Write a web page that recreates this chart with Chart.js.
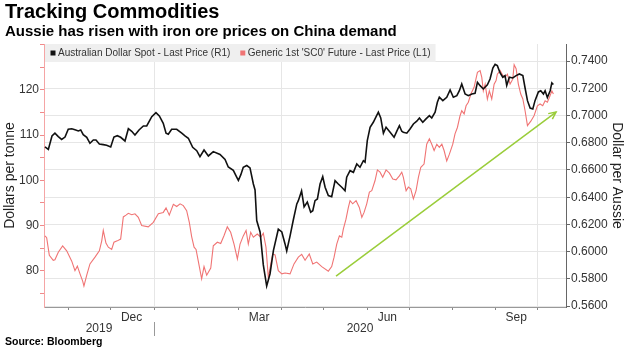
<!DOCTYPE html>
<html>
<head>
<meta charset="utf-8">
<script src="https://cdn.jsdelivr.net/npm/chart.js@4.4.1/dist/chart.umd.min.js"></script>
<style>
  html, body { margin: 0; padding: 0; background: #ffffff; }
  #wrap { width: 633px; height: 350px; }
</style>
</head>
<body>
<div id="wrap"><canvas id="c" width="633" height="350"></canvas></div>
<script>
// ---- data (x = days since 2019-10-01) ----
const audDays = [
  14.2,16.6,19.2,21.3,23.7,26.1,28.5,30.8,33.3,35.6,
  38.0,39.7,41.5,44.0,46.3,48.7,50.6,53.0,55.8,58.2,
  61.1,63.4,65.8,68.2,71.3,73.7,76.1,78.4,81.3,84.4,
  86.8,90.4,93.4,95.8,98.6,100.6,102.2,104.6,108.2,111.8,
  114.1,116.5,119.6,122.5,124.8,127.7,130.8,134.3,139.1,142.7,
  145.0,148.6,151.0,152.2,153.9,155.7,158.2,160.5,162.9,164.1,
  165.3,167.7,170.0,172.4,174.8,177.2,180.7,183.2,185.5,186.7,
  189.1,191.4,193.9,195.0,197.3,199.1,201.4,203.8,205.3,206.9,
  208.6,210.5,212.4,214.1,216.4,218.8,221.2,223.5,226.0,228.3,
  229.5,231.9,234.3,236.7,239.0,241.4,242.6,244.2,246.2,248.5,
  250.5,252.1,253.8,255.7,257.6,260.5,263.3,265.2,267.1,268.8,
  269.9,272.4,274.7,277.1,279.5,281.4,283.8,286.1,288.5,290.2,
  292.6,294.2,295.6,298.1,300.9,303.3,305.6,308.1,309.9,311.6,
  314.0,316.3,318.8,321.1,322.8,324.7,327.0,329.9,331.8,333.8,
  335.4,337.0,339.0,340.9,342.5,343.7,345.6,348.0,350.4,352.7,
  355.2,356.8,358.5,360.4,362.3,363.9,366.3,368.0,369.9,371.1,
  372.7,374.7,375.9,377.0
];
const audSpot = [
  0.6769,0.6751,0.6850,0.6870,0.6845,0.6824,0.6842,0.6899,0.6903,0.6896,
  0.6887,0.6894,0.6859,0.6840,0.6796,0.6820,0.6820,0.6791,0.6786,0.6782,
  0.6769,0.6842,0.6852,0.6840,0.6813,0.6903,0.6884,0.6857,0.6894,0.6923,
  0.6923,0.6991,0.7021,0.6997,0.6943,0.6870,0.6862,0.6899,0.6899,0.6870,
  0.6850,0.6833,0.6767,0.6742,0.6698,0.6747,0.6703,0.6735,0.6714,0.6677,
  0.6622,0.6597,0.6547,0.6523,0.6564,0.6620,0.6633,0.6615,0.6497,0.6453,
  0.6229,0.6145,0.5903,0.5748,0.5837,0.6008,0.6165,0.6145,0.6057,0.6005,
  0.6116,0.6233,0.6351,0.6375,0.6446,0.6329,0.6365,0.6290,0.6301,0.6375,
  0.6387,0.6497,0.6551,0.6473,0.6412,0.6404,0.6522,0.6497,0.6473,0.6448,
  0.6547,0.6595,0.6583,0.6644,0.6620,0.6668,0.6657,0.6815,0.6914,0.6950,
  0.6991,0.7024,0.6982,0.6870,0.6914,0.6877,0.6840,0.6884,0.6925,0.6884,
  0.6877,0.6870,0.6901,0.6938,0.6958,0.6982,0.6950,0.6975,0.6999,0.6982,
  0.7024,0.7097,0.7134,0.7109,0.7134,0.7188,0.7134,0.7146,0.7182,0.7232,
  0.7158,0.7146,0.7158,0.7163,0.7244,0.7219,0.7195,0.7226,0.7268,0.7349,
  0.7376,0.7366,0.7312,0.7281,0.7293,0.7221,0.7281,0.7276,0.7293,0.7305,
  0.7293,0.7202,0.7109,0.7055,0.7048,0.7109,0.7173,0.7182,0.7158,0.7182,
  0.7132,0.7182,0.7239,0.7228
];
const ironDays = [
  14.2,15.4,17.3,20.1,21.3,23.7,26.8,29.7,33.3,35.6,
  37.3,39.2,41.1,42.0,44.0,46.3,49.9,53.0,54.7,55.8,
  57.7,59.4,61.8,63.4,65.8,68.2,70.1,72.0,73.7,76.1,
  78.4,80.8,83.2,87.9,91.5,95.1,98.6,100.6,102.9,105.8,
  108.2,110.6,112.9,115.3,117.2,118.9,120.6,122.0,123.6,126.0,
  127.7,129.6,132.5,134.3,137.2,139.6,142.0,144.3,146.7,149.1,
  151.5,153.4,155.7,157.7,159.3,161.0,162.9,165.7,168.2,170.0,
  171.9,173.6,175.3,176.7,178.4,180.7,183.2,185.5,189.1,191.9,
  195.0,197.4,199.8,202.8,205.3,208.1,211.7,216.4,218.8,220.5,
  222.4,224.3,226.0,227.1,229.0,230.7,231.9,233.8,236.2,238.5,
  240.3,241.9,243.8,245.7,247.4,249.7,251.4,253.3,255.2,257.6,
  260.0,262.4,264.7,267.1,268.8,269.9,271.9,273.5,275.2,277.1,
  279.0,280.7,282.4,284.7,286.6,288.5,290.2,291.9,293.8,295.6,
  297.4,299.0,300.9,302.8,305.2,306.8,308.5,310.4,311.6,313.3,
  314.7,316.3,318.1,320.4,322.8,324.7,325.9,327.0,328.3,329.9,
  331.3,333.0,334.7,336.1,337.0,339.0,340.9,342.5,344.2,346.1,
  348.0,349.0,350.4,352.0,353.7,355.2,356.8,358.5,360.9,363.2,
  365.6,367.5,369.4,371.1,372.7,374.2,375.9,377.0
];
const ironOre = [
  87.7,87.3,83.4,82.3,82.4,84.1,85.5,84.4,82.1,80.0,
  81.0,79.3,77.7,76.6,79.0,81.5,83.0,84.4,86.6,88.9,
  86.1,85.2,84.7,86.3,86.6,87.0,91.9,92.3,92.7,92.4,
  92.6,91.8,90.0,89.7,90.7,92.6,92.9,93.9,92.3,94.7,
  94.2,94.8,94.4,93.3,90.7,87.5,85.2,84.7,82.1,78.2,
  80.9,79.0,80.6,85.5,86.3,86.0,87.8,89.7,88.5,85.9,
  82.6,85.9,87.7,88.9,85.9,88.5,87.4,88.1,87.4,88.3,
  85.2,78.4,81.4,83.7,83.5,80.0,79.3,79.5,79.3,81.5,
  83.0,83.6,82.3,83.7,81.5,81.9,80.9,79.9,80.9,83.0,
  85.9,87.7,87.4,89.2,91.4,94.0,95.5,94.8,95.5,94.0,
  91.8,92.9,94.8,97.4,97.7,99.9,102.3,101.8,100.7,102.3,
  101.6,100.3,100.1,101.0,101.8,100.7,97.7,98.5,98.1,95.9,
  97.7,100.7,102.9,103.6,108.0,109.2,108.0,106.6,108.0,107.3,
  108.0,106.6,104.3,105.8,108.0,110.3,111.7,114.3,115.4,114.7,
  116.5,117.3,119.1,120.6,123.9,124.3,122.8,119.8,121.3,118.0,
  119.8,118.0,121.3,122.1,123.5,124.3,123.2,122.8,123.5,121.3,
  122.4,125.6,124.7,121.3,119.1,118.0,115.4,112.1,113.1,114.3,
  116.5,116.9,116.5,117.6,117.3,118.4,119.8,119.1
];
// trend arrow annotation (days, left-axis level)
const arrowDays = [221.9, 378.9];
const arrowLevels = [78.8, 115.1];

const seriesNames = ["Australian Dollar Spot - Last Price (R1)", "Generic 1st 'SC0' Future - Last Price (L1)"];
const monthStartDates = ["2019-11-01","2019-12-01","2020-01-01","2020-02-01","2020-03-01","2020-04-01","2020-05-01","2020-06-01","2020-07-01","2020-08-01","2020-09-01","2020-10-01"];
const quarterStartDates = ["2020-01-01","2020-04-01","2020-07-01","2020-10-01"];
const monthLabels = ["Dec","Mar","Jun","Sep"];
const monthLabelDates = ["2019-12-16","2020-03-16","2020-06-15T12","2020-09-15T12"];
const yearLabels = ["2019","2020"];
const yearBreakDate = "2020-01-01";
const leftTicks = [75,80,85,90,95,100,105,110,115,120,125,130];
const leftLabels = [80,90,100,110,120];
const rightTicks = [0.56,0.58,0.60,0.62,0.64,0.66,0.68,0.70,0.72,0.74];
const xRange = [13.5, 386];
const leftRange = [71.96, 130.18];
const rightRange = [0.5594, 0.7525];

// ---- helpers ----
const base = Date.UTC(2019, 9, 1);
function dayOf(s) {
  const [d, h] = s.split("T");
  const [y, m, dd] = d.split("-").map(Number);
  return (Date.UTC(y, m - 1, dd) - base) / 864e5 + (h ? Number(h) / 24 : 0);
}
const monthStarts = monthStartDates.map(dayOf);
const quarterSet = new Set(quarterStartDates.map(dayOf));
const monthSet = new Set(monthStarts);
const labelPos = monthLabelDates.map(dayOf);
const labelMap = {};
labelPos.forEach((d, i) => { labelMap[String(d)] = monthLabels[i]; });
const xTicks = monthStarts.concat(labelPos).sort((a, b) => a - b);

const FONT = '"Liberation Sans", Arial, Helvetica, sans-serif';
Chart.defaults.font.family = FONT;
Chart.defaults.color = '#333';

const overlay = {
  id: 'overlay',
  afterDraw(chart) {
    const {ctx, chartArea: a, scales: {x}} = chart;
    ctx.save();
    // legend band
    ctx.font = '10px ' + FONT;
    const ds = chart.data.datasets;
    const sq = 5;
    let cx = a.left + 6.5;
    const parts = [];
    for (let i = 0; i < 2; i++) {
      const w = ctx.measureText(ds[i].label).width;
      parts.push({sx: cx, tx: cx + sq + 2.5, w, color: ds[i].legendColor});
      cx = cx + sq + 2.5 + w + 10;
    }
    const endX = parts[1].tx + parts[1].w + 5;
    ctx.fillStyle = '#efefef';
    ctx.fillRect(a.left + 1, a.top, endX - a.left - 1, 18);
    const my = a.top + 9.5;
    parts.forEach((p, i) => {
      ctx.fillStyle = p.color;
      ctx.fillRect(p.sx, my - 3, sq, sq);
      ctx.fillStyle = '#333';
      ctx.textBaseline = 'middle';
      ctx.textAlign = 'left';
      ctx.fillText(ds[i].label, p.tx, my);
    });
    // year labels
    const jan = x.getPixelForValue(dayOf(yearBreakDate));
    ctx.font = '12px ' + FONT;
    ctx.fillStyle = '#333';
    ctx.textAlign = 'center';
    ctx.fillText(yearLabels[0], (a.left + jan) / 2, 329);
    ctx.fillText(yearLabels[1], (jan + a.right) / 2, 329);
    ctx.strokeStyle = '#999';
    ctx.lineWidth = 1;
    ctx.beginPath();
    ctx.moveTo(Math.round(jan) + 0.5, 322);
    ctx.lineTo(Math.round(jan) + 0.5, 336);
    ctx.stroke();
    // source
    ctx.font = 'bold 10.5px ' + FONT;
    ctx.fillStyle = '#000';
    ctx.textAlign = 'left';
    ctx.fillText('Source: Bloomberg', 5, 342);
    // arrowhead
    const meta = chart.getDatasetMeta(2);
    const p0 = meta.data[0], p1 = meta.data[meta.data.length - 1];
    const ang = Math.atan2(p1.y - p0.y, p1.x - p0.x);
    ctx.strokeStyle = ds[2].borderColor;
    ctx.lineWidth = 1.5;
    ctx.beginPath();
    ctx.moveTo(p1.x - 8 * Math.cos(ang - 0.45), p1.y - 8 * Math.sin(ang - 0.45));
    ctx.lineTo(p1.x, p1.y);
    ctx.lineTo(p1.x - 8 * Math.cos(ang + 0.45), p1.y - 8 * Math.sin(ang + 0.45));
    ctx.stroke();
    ctx.restore();
  }
};

new Chart(document.getElementById('c'), {
  type: 'line',
  data: {
    datasets: [
      {
        label: seriesNames[0],
        data: audDays.map((d, i) => ({x: d, y: audSpot[i]})),
        yAxisID: 'yR',
        borderColor: '#111111',
        legendColor: '#111111',
        borderWidth: 1.6,
        pointRadius: 0,
        tension: 0,
        order: 1
      },
      {
        label: seriesNames[1],
        data: ironDays.map((d, i) => ({x: d, y: ironOre[i]})),
        yAxisID: 'yL',
        borderColor: '#f07474',
        legendColor: '#f07474',
        borderWidth: 1.1,
        pointRadius: 0,
        tension: 0,
        order: 2
      },
      {
        label: 'trend',
        data: arrowDays.map((d, i) => ({x: d, y: arrowLevels[i]})),
        yAxisID: 'yL',
        borderColor: '#9acd3a',
        borderWidth: 1.5,
        pointRadius: 0,
        order: 3
      }
    ]
  },
  options: {
    responsive: false,
    animation: false,
    events: [],
    layout: { padding: { left: 5, right: 0, top: 0, bottom: 0 } },
    plugins: {
      legend: { display: false },
      tooltip: { enabled: false },
      title: {
        display: true, text: 'Tracking Commodities', align: 'start', color: '#000',
        font: { size: 20, weight: 'bold', lineHeight: 1.2 }, padding: { top: 0, bottom: 0 }
      },
      subtitle: {
        display: true, text: 'Aussie has risen with iron ore prices on China demand', align: 'start', color: '#000',
        font: { size: 15, weight: 'bold', lineHeight: 1 }, padding: { top: 0, bottom: 5 }
      }
    },
    scales: {
      x: {
        type: 'linear',
        min: xRange[0], max: xRange[1],
        afterBuildTicks: s => { s.ticks = xTicks.map(v => ({value: v})); },
        afterFit: s => { s.height = 43; },
        ticks: {
          autoSkip: false, maxRotation: 0, padding: 0, color: '#333', font: { size: 12 },
          callback: v => labelMap[String(v)] || ''
        },
        grid: {
          color: c => (c.tick && quarterSet.has(c.tick.value)) ? '#e6e6e6' : 'rgba(0,0,0,0)',
          tickColor: c => (c.tick && monthSet.has(c.tick.value)) ? '#888' : 'rgba(0,0,0,0)',
          tickLength: 3
        },
        border: { color: '#999' }
      },
      yL: {
        position: 'left',
        min: leftRange[0], max: leftRange[1],
        afterBuildTicks: s => { s.ticks = leftTicks.map(v => ({value: v})); },
        afterFit: s => { s.width = 39; },
        ticks: {
          autoSkip: false, padding: 1, color: '#333', font: { size: 12 },
          callback: v => leftLabels.includes(v) ? String(v) : ''
        },
        grid: { drawOnChartArea: false, tickColor: '#f08a8a', tickLength: 4 },
        border: { color: '#f5a5a5' },
        title: {
          display: true, text: 'Dollars per tonne', color: '#222',
          font: { size: 14, lineHeight: 0.8 }, padding: { top: 0, bottom: 0 }
        }
      },
      yR: {
        position: 'right',
        min: rightRange[0], max: rightRange[1],
        afterBuildTicks: s => { s.ticks = rightTicks.map(v => ({value: v})); },
        afterFit: s => { s.width = 67; },
        ticks: {
          autoSkip: false, padding: 1, color: '#333', font: { size: 12 },
          callback: v => v.toFixed(4)
        },
        grid: { color: '#e6e6e6', tickColor: '#666', tickLength: 4 },
        border: { color: '#666' },
        title: {
          display: true, text: 'Dollar per Aussie', color: '#222',
          font: { size: 14, lineHeight: 0.8 }, padding: { top: 11, bottom: 0 }
        }
      }
    }
  },
  plugins: [overlay]
});
</script>
</body>
</html>
